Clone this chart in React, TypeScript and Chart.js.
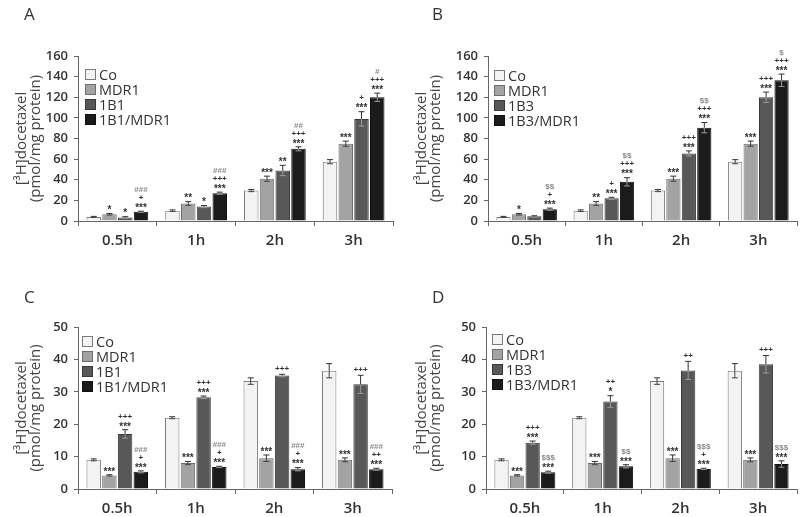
import React, { useEffect, useRef } from "react";
import { Chart, registerables } from "chart.js";
Chart.register(...registerables);

const TIMES = ["0.5h", "1h", "2h", "3h"];
const SERIES_1B1 = ["Co", "MDR1", "1B1", "1B1/MDR1"];
const SERIES_1B3 = ["Co", "MDR1", "1B3", "1B3/MDR1"];
const Y_TITLE = ["[³H]docetaxel", "(pmol/mg protein)"];

// Panel A (uptake, 1B1)
const A_CO = [4, 10, 29.5, 57.5];
const A_MDR1 = [6.5, 17, 41, 75];
const A_1B1 = [3.5, 14, 49, 99];
const A_COMBO = [9, 27, 70, 120];
const A_ERR = [[0.5, 0.8, 1, 2], [0.8, 1.8, 2.5, 2.5], [0.7, 1, 5, 7], [0.5, 1, 2, 4]];
const A_NOTES = [
  ["", "", "", ""],
  ["*", "**", "***", "***"],
  ["*", "*", "**", "+\n***"],
  ["###\n+\n***", "###\n+++\n***", "##\n+++\n***", "#\n+++\n***"],
];

// Panel B (uptake, 1B3)
const B_CO = [4, 10, 29.5, 57.5];
const B_MDR1 = [6.5, 17, 41, 75];
const B_1B3 = [4.5, 22, 65.5, 120];
const B_COMBO = [11.5, 38, 90.5, 136.5];
const B_ERR = [[0.5, 0.8, 1, 2], [0.8, 1.8, 2.5, 2.5], [0.6, 1, 2.5, 5], [1, 4, 5, 6]];
const B_NOTES = [
  ["", "", "", ""],
  ["*", "**", "***", "***"],
  ["", "+\n***", "+++\n***", "+++\n***"],
  ["$$\n+\n***", "$$\n+++\n***", "$$\n+++\n***", "$\n+++\n***"],
];

// Panel C (1B1)
const C_CO = [9, 22, 33.3, 36.5];
const C_MDR1 = [4.2, 8, 9.5, 9];
const C_1B1 = [17, 28.3, 35, 32.3];
const C_COMBO = [5.3, 6.8, 6.1, 6.1];
const C_ERR = [[0.3, 0.3, 1, 2.2], [0.2, 0.5, 1, 0.6], [1.3, 0.4, 0.4, 2.8], [0.3, 0.2, 0.5, 0.3]];
const C_NOTES = [
  ["", "", "", ""],
  ["***", "***", "***", "***"],
  ["+++\n***", "+++\n***", "+++", "+++"],
  ["###\n+\n***", "###\n+\n***", "###\n+\n***", "###\n++\n***"],
];

// Panel D (1B3)
const D_CO = [9, 22, 33.3, 36.5];
const D_MDR1 = [4.2, 8, 9.5, 9];
const D_1B3 = [14.3, 27, 36.6, 38.5];
const D_COMBO = [5.2, 7, 6.2, 7.7];
const D_ERR = [[0.3, 0.3, 1, 2.2], [0.2, 0.5, 1, 0.6], [0.5, 1.8, 2.8, 2.7], [0.3, 0.5, 0.2, 1]];
const D_NOTES = [
  ["", "", "", ""],
  ["***", "***", "***", "***"],
  ["+++\n***", "++\n*", "++", "+++"],
  ["$$$\n***", "$$\n***", "$$$\n+\n***", "$$$\n***"],
];

const FILLS = ["#f3f3f3", "#a3a3a3", "#585858", "#1b1b1b"];
const BORDERS = ["#7a7a7a", "#6e6e6e", "#3a3a3a", "#111111"];
const FONT = "'Open Sans', 'Noto Sans', sans-serif";

function makeErrPlugin(errors: number[][], notes: string[][]) {
  return {
    id: "errAnn",
    afterDatasetsDraw(chart: any) {
      const ctx = chart.ctx;
      const ys = chart.scales.y;
      ctx.save();
      errors.forEach((errs, di) => {
        const meta = chart.getDatasetMeta(di);
        meta.data.forEach((bar: any, i: number) => {
          const v = chart.data.datasets[di].data[i] as number;
          const e = errs[i];
          const x = bar.x;
          const yv = ys.getPixelForValue(v);
          const yt = ys.getPixelForValue(v + e);
          const yb = ys.getPixelForValue(v - e);
          ctx.lineWidth = 1;
          ctx.strokeStyle = di >= 2 ? "#9a9a9a" : "#444";
          ctx.beginPath();
          ctx.moveTo(x, yb);
          ctx.lineTo(x, yv);
          ctx.moveTo(x - 3, yb);
          ctx.lineTo(x + 3, yb);
          ctx.stroke();
          ctx.strokeStyle = "#333";
          ctx.beginPath();
          ctx.moveTo(x, yv);
          ctx.lineTo(x, yt);
          ctx.moveTo(x - 3, yt);
          ctx.lineTo(x + 3, yt);
          ctx.stroke();
          const txt = notes[di][i];
          if (!txt) return;
          const lines = txt.split("\n");
          ctx.textAlign = "center";
          ctx.textBaseline = "alphabetic";
          let cy = yt - 6;
          for (let k = lines.length - 1; k >= 0; k--) {
            const ln = lines[k];
            const c = ln[0];
            let size = 8;
            let rise = 0.35;
            if (c === "*") { size = 10; rise = 0.58; }
            ctx.font = `bold ${size}px 'Liberation Sans', sans-serif`;
            ctx.fillStyle = c === "#" || c === "$" ? "#8a8a8a" : "#333";
            ctx.fillText(ln, x, cy + rise * size);
            cy -= 8;
          }
        });
      });
      ctx.restore();
    },
  };
}

type PanelProps = {
  left: number; top: number; width: number; height: number;
  area: { l: number; t: number; r: number; b: number };
  max: number; step: number;
  series: string[]; values: number[][]; errors: number[][]; notes: string[][];
  letter: string; letterPos: { x: number; y: number };
  legendPos: { x: number; y: number; gap: number };
};

function Panel(p: PanelProps) {
  const ref = useRef<HTMLCanvasElement>(null);
  useEffect(() => {
    const chart = new Chart(ref.current!, {
      type: "bar",
      data: {
        labels: TIMES,
        datasets: p.series.map((s, i) => ({
          label: s,
          data: p.values[i],
          backgroundColor: FILLS[i],
          borderColor: BORDERS[i],
          borderWidth: 1,
          categoryPercentage: 0.8,
          barPercentage: 0.92,
        })),
      },
      options: {
        animation: false,
        responsive: true,
        maintainAspectRatio: false,
        layout: { padding: { left: 0, top: p.area.t, right: p.width - p.area.r, bottom: 0 } },
        plugins: { legend: { display: false }, tooltip: { enabled: false } },
        scales: {
          x: {
            ticks: { color: "#333", font: { family: FONT, size: 15, weight: "600" }, padding: 6 },
            grid: { display: true, drawOnChartArea: false, tickLength: 5, offset: true, color: "#666" },
            border: { color: "#666" },
            afterFit: (s: any) => { s.height = p.height - p.area.b; },
          },
          y: {
            min: 0, max: p.max,
            ticks: { stepSize: p.step, color: "#333", font: { family: FONT, size: 13, weight: "600" }, padding: 6 },
            grid: { display: true, drawOnChartArea: false, tickLength: 4, color: "#666" },
            border: { color: "#666" },
            title: {
              display: true, text: Y_TITLE, color: "#444",
              font: { family: FONT, size: 15, lineHeight: 0.9 },
              padding: { top: 15, bottom: 0 },
            },
            afterFit: (s: any) => { s.width = p.area.l; },
          },
        },
      } as any,
      plugins: [makeErrPlugin(p.errors, p.notes)],
    });
    return () => chart.destroy();
  }, []);
  return (
    <div style={{ position: "absolute", left: p.left, top: p.top, width: p.width, height: p.height }}>
      <canvas ref={ref} />
      <div style={{ position: "absolute", left: p.letterPos.x, top: p.letterPos.y, font: `17px ${FONT}`, color: "#333" }}>{p.letter}</div>
      {p.series.map((s, i) => (
        <div key={s} style={{ position: "absolute", left: p.legendPos.x, top: p.legendPos.y + i * p.legendPos.gap - 9, height: 18, display: "flex", alignItems: "center", font: `14.5px ${FONT}`, color: "#333", whiteSpace: "nowrap" }}>
          <span style={{ display: "inline-block", width: 9, height: 9, background: FILLS[i], border: `1px solid ${BORDERS[i]}`, marginRight: 3 }} />
          {s}
        </div>
      ))}
    </div>
  );
}

export default function App() {
  return (
    <div style={{ position: "fixed", left: 0, top: 0, width: 800, height: 517, background: "#fff" }}>
      <Panel left={0} top={0} width={400} height={258} area={{ l: 78, t: 56, r: 393, b: 221 }} max={160} step={20}
        series={SERIES_1B1} values={[A_CO, A_MDR1, A_1B1, A_COMBO]} errors={A_ERR} notes={A_NOTES}
        letter="A" letterPos={{ x: 24, y: 2 }} legendPos={{ x: 85, y: 74, gap: 15 }} />
      <Panel left={400} top={0} width={400} height={258} area={{ l: 88, t: 56, r: 397, b: 221 }} max={160} step={20}
        series={SERIES_1B3} values={[B_CO, B_MDR1, B_1B3, B_COMBO]} errors={B_ERR} notes={B_NOTES}
        letter="B" letterPos={{ x: 32, y: 2 }} legendPos={{ x: 94, y: 75, gap: 15 }} />
      <Panel left={0} top={258} width={400} height={259} area={{ l: 78, t: 69, r: 392, b: 231 }} max={50} step={10}
        series={SERIES_1B1} values={[C_CO, C_MDR1, C_1B1, C_COMBO]} errors={C_ERR} notes={C_NOTES}
        letter="C" letterPos={{ x: 24, y: 27 }} legendPos={{ x: 82, y: 83, gap: 15.3 }} />
      <Panel left={400} top={258} width={400} height={259} area={{ l: 86, t: 69, r: 397, b: 231 }} max={50} step={10}
        series={SERIES_1B3} values={[D_CO, D_MDR1, D_1B3, D_COMBO]} errors={D_ERR} notes={D_NOTES}
        letter="D" letterPos={{ x: 32, y: 27 }} legendPos={{ x: 92, y: 81, gap: 15.3 }} />
    </div>
  );
}
